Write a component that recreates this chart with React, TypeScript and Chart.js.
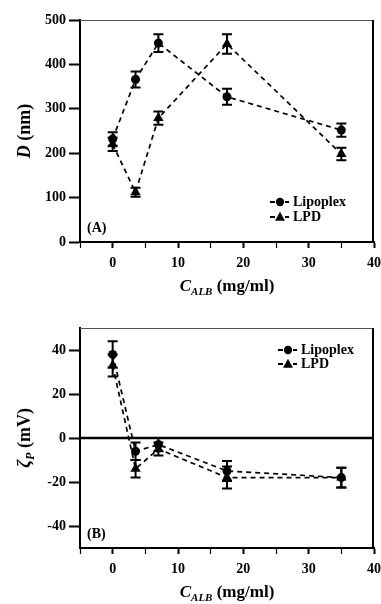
import React, { useEffect, useRef } from "react";
import { Chart, registerables } from "chart.js";
Chart.register(...registerables);

const concentrations = [0, 3.5, 7, 17.5, 35];
const seriesNames = ["Lipoplex", "LPD"];
const sizeLipoplex = [232, 366, 448, 327, 252];
const sizeLipoplexErr = [15, 18, 20, 18, 15];
const sizeLPD = [220, 112, 279, 446, 198];
const sizeLPDErr = [15, 10, 15, 22, 14];
const zetaLipoplex = [38, -6, -3, -15, -18];
const zetaLipoplexErr = [6, 4, 3, 4.5, 4.5];
const zetaLPD = [33, -14, -5, -18, -18];
const zetaLPDErr = [5, 4, 3, 5, 4.5];
const xTicks = [-5, 0, 5, 10, 15, 20, 25, 30, 35, 40];
const xLabelTicks = [0, 10, 20, 30, 40];
const yTicksA = [0, 100, 200, 300, 400, 500];
const yTicksB = [-40, -20, 0, 20, 40];

const FONT = "'Liberation Serif', 'DejaVu Serif', serif";

type Seg = { t: string; it?: boolean; sub?: boolean };

function drawSegs(ctx: CanvasRenderingContext2D, segs: Seg[], cx: number, cy: number, size: number) {
  const fontFor = (s: Seg) =>
    `${s.it ? "italic " : ""}bold ${s.sub ? Math.round(size * 0.65) : size}px ${FONT}`;
  let total = 0;
  segs.forEach((s) => {
    ctx.font = fontFor(s);
    total += ctx.measureText(s.t).width;
  });
  let x = cx - total / 2;
  ctx.textBaseline = "middle";
  ctx.textAlign = "left";
  segs.forEach((s) => {
    ctx.font = fontFor(s);
    ctx.fillText(s.t, x, cy + (s.sub ? size * 0.33 : 0));
    x += ctx.measureText(s.t).width;
  });
}

function drawMarker(ctx: CanvasRenderingContext2D, style: string, x: number, y: number, r: number) {
  ctx.beginPath();
  if (style === "circle") {
    ctx.arc(x, y, r, 0, Math.PI * 2);
  } else {
    ctx.moveTo(x, y - r);
    ctx.lineTo(x + r * 0.95, y + r * 0.7);
    ctx.lineTo(x - r * 0.95, y + r * 0.7);
    ctx.closePath();
  }
  ctx.fill();
}

const decorPlugin = {
  id: "decor",
  beforeDatasetsDraw(chart: any, _args: any, opts: any) {
    const ctx = chart.ctx as CanvasRenderingContext2D;
    const ys = chart.scales.y;
    const { left, right } = chart.chartArea;
    ctx.save();
    if (opts.zeroLine) {
      const y0 = ys.getPixelForValue(0);
      ctx.strokeStyle = "#000";
      ctx.lineWidth = 2.5;
      ctx.beginPath();
      ctx.moveTo(left, y0);
      ctx.lineTo(right, y0);
      ctx.stroke();
    }
    ctx.strokeStyle = "#000";
    ctx.lineWidth = 2;
    (opts.errs as number[][]).forEach((errs, di) => {
      const meta = chart.getDatasetMeta(di);
      const vals = chart.data.datasets[di].data;
      meta.data.forEach((pt: any, i: number) => {
        const v = vals[i].y;
        const e = errs[i];
        const yTop = ys.getPixelForValue(v + e);
        const yBot = ys.getPixelForValue(v - e);
        ctx.beginPath();
        ctx.moveTo(pt.x, yTop);
        ctx.lineTo(pt.x, yBot);
        ctx.moveTo(pt.x - 5, yTop);
        ctx.lineTo(pt.x + 5, yTop);
        ctx.moveTo(pt.x - 5, yBot);
        ctx.lineTo(pt.x + 5, yBot);
        ctx.stroke();
      });
    });
    ctx.restore();
  },
  afterDraw(chart: any, _args: any, opts: any) {
    const ctx = chart.ctx as CanvasRenderingContext2D;
    const { left, right, top, bottom } = chart.chartArea;
    ctx.save();
    ctx.strokeStyle = "#555";
    ctx.lineWidth = 1;
    ctx.beginPath();
    ctx.moveTo(left, top + 0.5);
    ctx.lineTo(right, top + 0.5);
    ctx.stroke();
    ctx.strokeStyle = "#000";
    ctx.lineWidth = 2;
    ctx.beginPath();
    ctx.moveTo(right - 1, top);
    ctx.lineTo(right - 1, bottom);
    ctx.stroke();
    ctx.fillStyle = "#000";
    ctx.font = `bold 14px ${FONT}`;
    ctx.textBaseline = "middle";
    ctx.textAlign = "left";
    ctx.fillText(opts.panel, left + 7, bottom - 14);
    const lx = right - opts.legendRight;
    opts.legendRows.forEach((ly: number, i: number) => {
      const y = top + ly;
      const style = i === 0 ? "circle" : "triangle";
      ctx.strokeStyle = "#000";
      ctx.lineWidth = 1.8;
      ctx.beginPath();
      ctx.moveTo(lx, y);
      ctx.lineTo(lx + 5, y);
      ctx.moveTo(lx + 15, y);
      ctx.lineTo(lx + 19, y);
      ctx.stroke();
      drawMarker(ctx, style, lx + 10, y, style === "circle" ? 4.2 : 5.2);
      ctx.font = `bold 14px ${FONT}`;
      ctx.fillText(seriesNames[i], lx + 23, y);
    });
    drawSegs(ctx, [{ t: "C", it: true }, { t: "ALB", it: true, sub: true }, { t: " (mg/ml)" }], (left + right) / 2, bottom + 45, 17);
    ctx.translate(25, (top + bottom) / 2);
    ctx.rotate(-Math.PI / 2);
    drawSegs(ctx, opts.yTitle, 0, 0, 18);
    ctx.restore();
  },
};

function makeConfig(
  y1: number[],
  y2: number[],
  e1: number[],
  e2: number[],
  yMin: number,
  yMax: number,
  yTicks: number[],
  padTop: number,
  xHeight: number,
  extra: any
): any {
  const ds = (vals: number[], style: string, r: number) => ({
    data: concentrations.map((x, i) => ({ x, y: vals[i] })),
    showLine: true,
    borderColor: "#000",
    borderWidth: 1.7,
    borderDash: [5, 4],
    pointStyle: style,
    pointRadius: r,
    pointBackgroundColor: "#000",
    pointBorderColor: "#000",
    pointBorderWidth: 0,
    tension: 0,
  });
  return {
    type: "scatter",
    data: {
      datasets: [ds(y1, "circle", 4.5), ds(y2, "triangle", 6)],
    },
    options: {
      animation: false,
      responsive: false,
      layout: { padding: { top: padTop, right: 7, left: 0, bottom: 0 } },
      plugins: {
        legend: { display: false },
        tooltip: { enabled: false },
        decor: { errs: [e1, e2], ...extra },
      },
      scales: {
        x: {
          type: "linear",
          min: -5,
          max: 40,
          afterFit: (s: any) => {
            s.height = xHeight;
            s.paddingLeft = 0;
            s.paddingRight = 0;
          },
          afterBuildTicks: (s: any) => {
            s.ticks = xTicks.map((v) => ({ value: v }));
          },
          grid: {
            drawOnChartArea: false,
            drawTicks: true,
            tickLength: 6,
            tickColor: "#000",
            tickWidth: (c: any) => (c.tick && xLabelTicks.includes(c.tick.value) ? 2 : 1.2),
          },
          border: { display: true, color: "#000", width: 2 },
          ticks: {
            color: "#000",
            padding: 7,
            maxRotation: 0,
            autoSkip: false,
            font: { family: FONT, size: 14, weight: "bold" },
            callback: (v: any) => (xLabelTicks.includes(Number(v)) ? String(v) : ""),
          },
        },
        y: {
          type: "linear",
          min: yMin,
          max: yMax,
          afterFit: (s: any) => {
            s.width = 80;
            s.paddingTop = 0;
            s.paddingBottom = 0;
          },
          afterBuildTicks: (s: any) => {
            s.ticks = yTicks.map((v) => ({ value: v }));
          },
          grid: {
            drawOnChartArea: false,
            drawTicks: true,
            tickLength: 11,
            tickColor: "#000",
            tickWidth: 2,
          },
          border: { display: true, color: "#000", width: 2 },
          ticks: {
            color: "#000",
            padding: 3,
            autoSkip: false,
            font: { family: FONT, size: 14, weight: "bold" },
            callback: (v: any) => String(v),
          },
        },
      },
    },
    plugins: [decorPlugin],
  };
}

export default function App() {
  const refA = useRef<HTMLCanvasElement>(null);
  const refB = useRef<HTMLCanvasElement>(null);
  useEffect(() => {
    const a = new Chart(
      refA.current!,
      makeConfig(sizeLipoplex, sizeLPD, sizeLipoplexErr, sizeLPDErr, 0, 500, yTicksA, 20, 60, {
        panel: "(A)",
        legendRight: 104,
        legendRows: [182, 197],
        yTitle: [{ t: "D", it: true }, { t: " (nm)" }],
        zeroLine: false,
      })
    );
    const b = new Chart(
      refB.current!,
      makeConfig(zetaLipoplex, zetaLPD, zetaLipoplexErr, zetaLPDErr, -50, 50, yTicksB, 26, 56, {
        panel: "(B)",
        legendRight: 96,
        legendRows: [22, 36],
        yTitle: [{ t: "ζ", it: true }, { t: "P", it: true, sub: true }, { t: " (mV)" }],
        zeroLine: true,
      })
    );
    return () => {
      a.destroy();
      b.destroy();
    };
  }, []);
  return (
    <div style={{ position: "absolute", left: 0, top: 0, width: 381, height: 604, background: "#fff" }}>
      <canvas ref={refA} width={381} height={302} style={{ display: "block" }} />
      <canvas ref={refB} width={381} height={302} style={{ display: "block" }} />
    </div>
  );
}
